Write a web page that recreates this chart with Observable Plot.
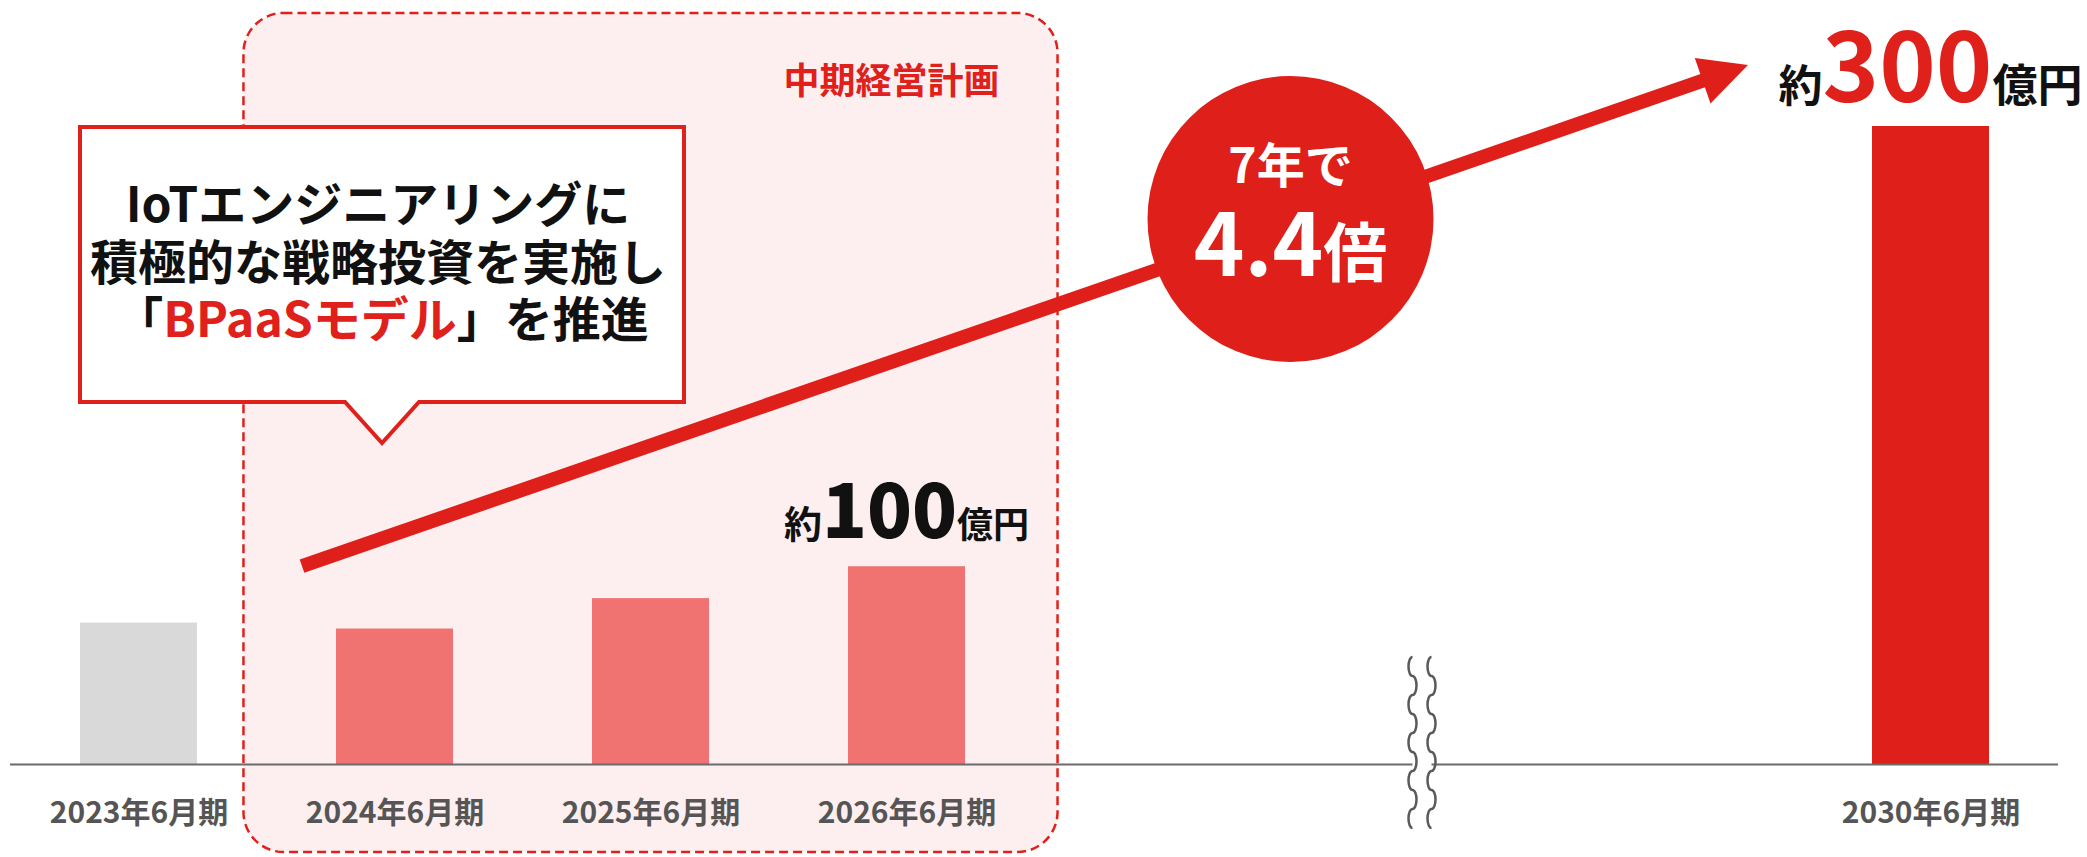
<!DOCTYPE html>
<html><head><meta charset="utf-8">
<script src="https://cdn.jsdelivr.net/npm/d3@7"></script>
<script src="https://cdn.jsdelivr.net/npm/@observablehq/plot@0.6"></script>
<style>html,body{margin:0;padding:0;background:#fff;overflow:hidden}</style>
</head><body><div id="chart"></div>
<script>
// ---- data ----
const periods = ["2023年6月期", "2024年6月期", "2025年6月期", "2026年6月期", "2030年6月期"];
const revenues = [66.5, 63.7, 78, 93, 300];           // 億円
const phases = ["実績", "中期経営計画", "中期経営計画", "中期経営計画", "目標"];
const slots = ["2023年6月期", "2024年6月期", "2025年6月期", "2026年6月期", "gap1", "gap2", "gap3", "2030年6月期"];
const planTitle = "中期経営計画";
const calloutLines = ["IoTエンジニアリングに", "積極的な戦略投資を実施し"];
const calloutLine3 = ["「", "BPaaSモデル", "」を推進"];
const growthTop = "7年で";
const growthBig = ["4.4", "倍"];
const label2026 = ["約", "100", "億円"];
const label2030 = ["約", "300", "億円"];

const data = periods.map((p, i) => ({period: p, revenue: revenues[i], phase: phases[i]}));

const FONT = "'Noto Sans CJK JP', 'Noto Sans', sans-serif";
const RED = "#df1f19";

function helpers(scales) {
  const x = scales.x, y = scales.y;
  const bw = typeof x.bandwidth === "function" ? x.bandwidth() : x.bandwidth;
  const cx = v => x(v) + bw / 2;
  const step = cx(slots[1]) - cx(slots[0]);
  return {x, y, bw, cx, step};
}

// mid-term plan region
const regionMark = (index, scales, values, dims) => {
  const {cx, step} = helpers(scales);
  const x1 = cx(slots[1]) - 0.59 * step, x2 = cx(slots[3]) + 0.59 * step;
  const g = d3.create("svg:g");
  g.append("rect").attr("x", x1).attr("y", 13).attr("width", x2 - x1).attr("height", dims.height - 18)
    .attr("rx", 40).attr("fill", "#fdeff0").attr("stroke", "#e0201a")
    .attr("stroke-width", 2.5).attr("stroke-dasharray", "9,5");
  g.append("text").attr("x", x2 - 58).attr("y", 94).attr("text-anchor", "end")
    .attr("font-family", FONT).attr("font-size", 36).attr("font-weight", "bold")
    .attr("fill", "#e0201a").text(planTitle);
  return g.node();
};

// axis break
const waveMark = (index, scales, values, dims) => {
  const {cx, y} = helpers(scales);
  const c = cx(slots[5]);
  const y0 = y(0);
  const g = d3.create("svg:g");
  g.append("rect").attr("x", c - 6).attr("y", y0 - 6).attr("width", 19).attr("height", 12).attr("fill", "#fff");
  for (const xx of [c - 6, c + 13]) {
    let d = `M${xx},${y0 - 107}`;
    for (let k = 0; k < 9; k++) d += ` a4,9.5 0 0 ${k % 2} 0,19`;
    g.append("path").attr("d", d).attr("fill", "none").attr("stroke", "#5a5a5a").attr("stroke-width", 2.5);
  }
  return g.node();
};

// callout
const calloutMark = (index, scales) => {
  const {x, y} = helpers(scales);
  const left = x(slots[0]), right = left + 604, top = y(300) + 1, bottom = 402;
  const px = (left + right) / 2;
  const g = d3.create("svg:g");
  g.append("path")
    .attr("d", `M${left},${top}H${right}V${bottom}H${px + 37}L${px},${bottom + 41}L${px - 37},${bottom}H${left}Z`)
    .attr("fill", "#fff").attr("stroke", "#e0201a").attr("stroke-width", 4);
  const t = g.append("g").attr("font-family", FONT).attr("font-size", 48).attr("font-weight", "bold")
    .attr("text-anchor", "middle").attr("fill", "#111");
  t.append("text").attr("x", px - 4).attr("y", 222).text(calloutLines[0]);
  t.append("text").attr("x", px - 4).attr("y", 280).text(calloutLines[1]);
  const l3 = t.append("text").attr("x", px).attr("y", 337);
  l3.append("tspan").text(calloutLine3[0]);
  l3.append("tspan").attr("fill", "#e0201a").text(calloutLine3[1]);
  l3.append("tspan").text(calloutLine3[2]);
  return g.node();
};

// growth arrow + circle
const arrowMark = (index, scales) => {
  const {x, y, cx, step} = helpers(scales);
  const s = [x(slots[1]) - 34, y(revenues[3])];
  const tip = [x(slots[7]) - 124, y(300) - 61];
  const dx = tip[0] - s[0], dy = tip[1] - s[1], L = Math.hypot(dx, dy);
  const u = [dx / L, dy / L], n = [-u[1], u[0]];
  const hl = 48, hw = 24;
  const b = [tip[0] - u[0] * hl, tip[1] - u[1] * hl];
  const e = [tip[0] - u[0] * (hl - 4), tip[1] - u[1] * (hl - 4)];
  const g = d3.create("svg:g");
  g.append("line").attr("x1", s[0]).attr("y1", s[1]).attr("x2", e[0]).attr("y2", e[1])
    .attr("stroke", RED).attr("stroke-width", 14).attr("stroke-linecap", "butt");
  g.append("path").attr("d", `M${tip}L${b[0] + n[0] * hw},${b[1] + n[1] * hw}L${b[0] - n[0] * hw},${b[1] - n[1] * hw}Z`)
    .attr("fill", RED);
  const cX = cx(slots[4]) + step / 2, cY = 219;
  g.append("circle").attr("cx", cX).attr("cy", cY).attr("r", 143).attr("fill", RED);
  const t = g.append("g").attr("font-family", FONT).attr("font-weight", "bold").attr("fill", "#fff").attr("text-anchor", "middle");
  t.append("text").attr("x", cX).attr("y", 183).attr("font-size", 48).text(growthTop);
  const big = t.append("text").attr("x", cX).attr("y", 276);
  big.append("tspan").attr("font-size", 86).text(growthBig[0]);
  big.append("tspan").attr("font-size", 64).text(growthBig[1]);
  return g.node();
};

// value labels
const labelsMark = (index, scales) => {
  const {cx, y} = helpers(scales);
  const g = d3.create("svg:g").attr("font-family", FONT).attr("text-anchor", "middle");
  const a = g.append("text").attr("x", cx(periods[3])).attr("y", y(revenues[3]) - 28).attr("fill", "#111");
  a.append("tspan").attr("font-size", 38).attr("font-weight", "bold").text(label2026[0]);
  a.append("tspan").attr("font-size", 74).attr("font-weight", 900).text(label2026[1]);
  a.append("tspan").attr("font-size", 36).attr("font-weight", "bold").text(label2026[2]);
  const b = g.append("text").attr("x", cx(periods[4])).attr("y", y(revenues[4]) - 24).attr("fill", "#111");
  b.append("tspan").attr("font-size", 44).attr("font-weight", "bold").text(label2030[0]);
  b.append("tspan").attr("font-size", 96).attr("font-weight", "bold").attr("fill", "#e0201a").text(label2030[1]);
  b.append("tspan").attr("font-size", 45).attr("font-weight", "bold").text(label2030[2]);
  return g.node();
};

const chart = Plot.plot({
  width: 2087, height: 857,
  marginLeft: 10, marginRight: 29, marginTop: 126, marginBottom: 93,
  style: {fontFamily: FONT, background: "#fff", overflow: "visible"},
  x: {type: "band", domain: slots, paddingInner: 0.543, paddingOuter: 0.2715, align: 0.5},
  y: {domain: [0, 300], axis: null},
  color: {domain: ["実績", "中期経営計画", "目標"], range: ["#d9d9d9", "#f07371", RED]},
  marks: [
    regionMark,
    Plot.barY(data, {x: "period", y: "revenue", fill: "phase"}),
    Plot.ruleY([0], {stroke: "#6b6b6b", strokeWidth: 2}),
    waveMark,
    Plot.axisX({ticks: periods, tickSize: 0, tickPadding: 37, fontSize: 30, fontWeight: "bold", color: "#555", label: null}),
    calloutMark,
    arrowMark,
    labelsMark
  ]
});
document.getElementById("chart").append(chart);
</script>
</body></html>
